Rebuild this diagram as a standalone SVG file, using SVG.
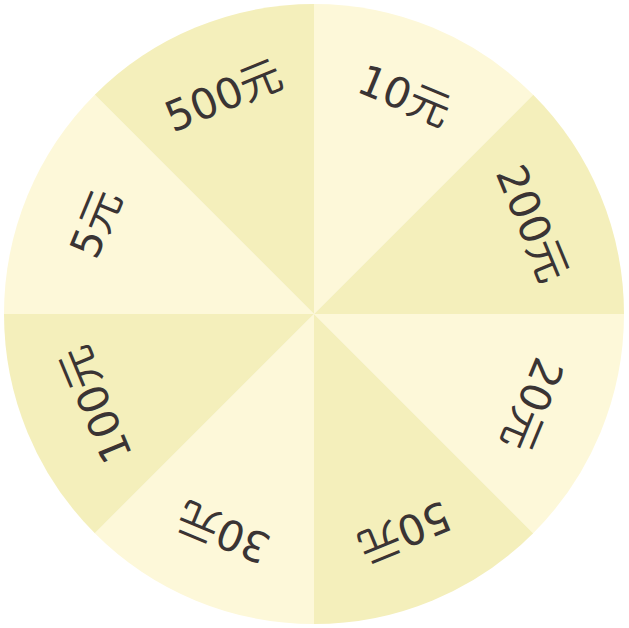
<svg xmlns="http://www.w3.org/2000/svg" width="629" height="628" viewBox="0 0 629 628">
<style>
.l{fill:#fdf8d9}
.d{fill:#f4efbb}
text{font-family:"DejaVu Sans","Noto Sans CJK SC",sans-serif;font-size:42px;fill:#3a3434;text-anchor:middle;dominant-baseline:central}
</style>
<defs>
<path id="s" d="M314,314 L314,4 A310,310 0 0 1 533.2,94.8 Z"/>
</defs>
<rect width="629" height="628" fill="#ffffff"/>
<g id="slice-10"><use href="#s" class="l"/><text transform="rotate(22.5 314 314)" x="314" y="78">10元</text></g>
<g id="slice-200"><use href="#s" class="d" transform="rotate(45 314 314)"/><text transform="rotate(67.5 314 314)" x="314" y="78">200元</text></g>
<g id="slice-20"><use href="#s" class="l" transform="rotate(90 314 314)"/><text transform="rotate(112.5 314 314)" x="314" y="78">20元</text></g>
<g id="slice-50"><use href="#s" class="d" transform="rotate(135 314 314)"/><text transform="rotate(157.5 314 314)" x="314" y="78">50元</text></g>
<g id="slice-30"><use href="#s" class="l" transform="rotate(180 314 314)"/><text transform="rotate(202.5 314 314)" x="314" y="78">30元</text></g>
<g id="slice-100"><use href="#s" class="d" transform="rotate(225 314 314)"/><text transform="rotate(247.5 314 314)" x="314" y="78">100元</text></g>
<g id="slice-5"><use href="#s" class="l" transform="rotate(270 314 314)"/><text transform="rotate(292.5 314 314)" x="314" y="78">5元</text></g>
<g id="slice-500"><use href="#s" class="d" transform="rotate(315 314 314)"/><text transform="rotate(337.5 314 314)" x="314" y="78">500元</text></g>
<g id="connectors"></g>
</svg>
